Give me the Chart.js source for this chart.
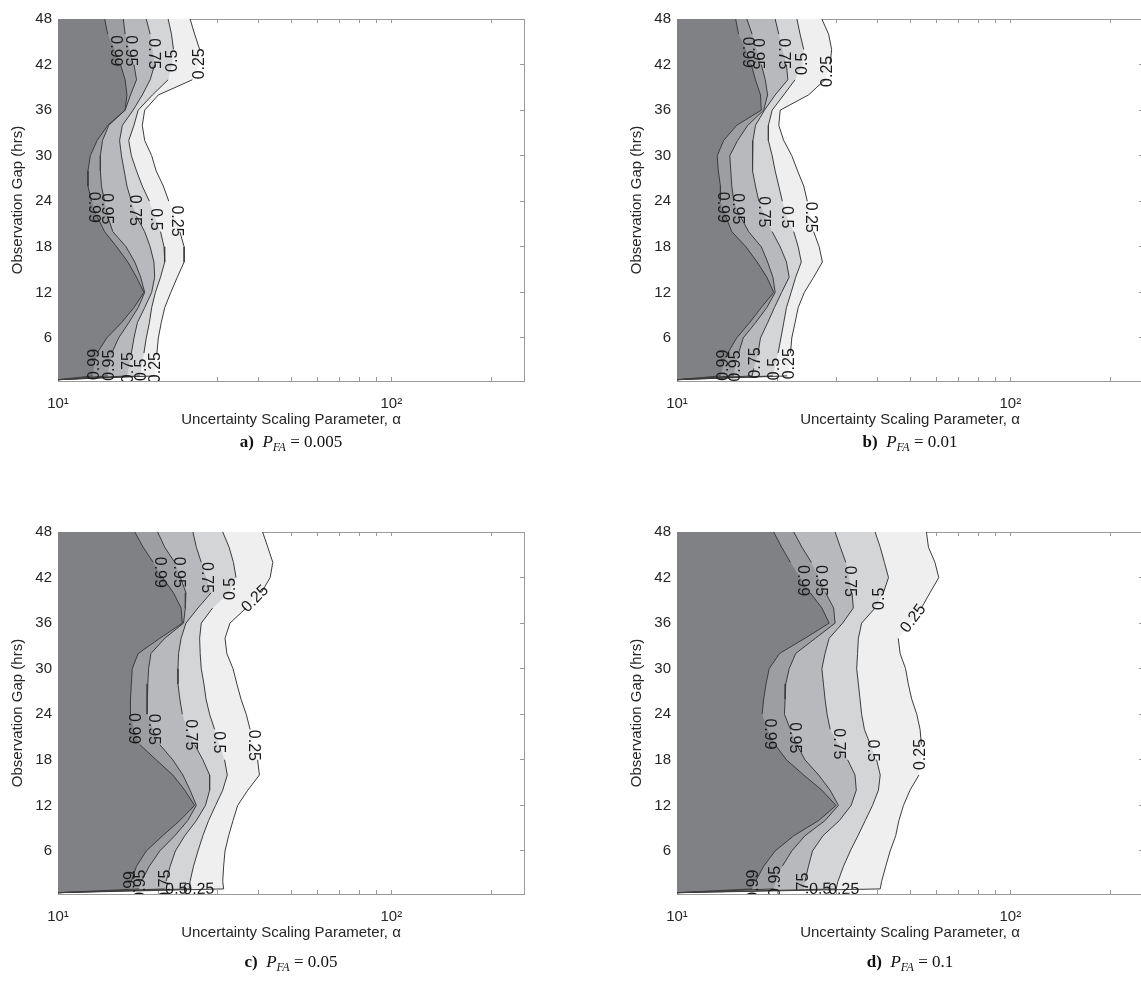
<!DOCTYPE html>
<html>
<head>
<meta charset="utf-8">
<title>Observation gap vs uncertainty scaling parameter</title>
<script src="https://cdn.jsdelivr.net/npm/chart.js@4.4.1/dist/chart.umd.min.js"></script>
<style>
  html, body { margin: 0; padding: 0; background: #fff; }
  body { width: 1141px; height: 988px; overflow: hidden; position: relative; }
  .panel { position: absolute; width: 560px; height: 460px; }
  .cap { position: absolute; width: 300px; text-align: center; line-height: 20px;
         font-family: 'Liberation Serif', 'Times New Roman', serif; font-size: 17px; color: #111; }
  .cap sub { font-size: 12px; }
</style>
</head>
<body>
<div class="panel" style="left:0;top:0"><canvas id="chartA"></canvas></div>
<div class="panel" style="left:619px;top:0"><canvas id="chartB"></canvas></div>
<div class="panel" style="left:0;top:513px"><canvas id="chartC"></canvas></div>
<div class="panel" style="left:619px;top:513px"><canvas id="chartD"></canvas></div>
<div class="cap" style="left:141px;top:432px"><b>a)</b>&nbsp; <i>P<sub>FA</sub></i> = 0.005</div>
<div class="cap" style="left:760px;top:432px"><b>b)</b>&nbsp; <i>P<sub>FA</sub></i> = 0.01</div>
<div class="cap" style="left:141px;top:952px"><b>c)</b>&nbsp; <i>P<sub>FA</sub></i> = 0.05</div>
<div class="cap" style="left:760px;top:952px"><b>d)</b>&nbsp; <i>P<sub>FA</sub></i> = 0.1</div>
<script>
// observation gap (hrs) at which every contour is sampled, top to bottom
var gapHours = [48, 46, 44, 42, 40, 38, 36, 34, 32, 30, 28, 26, 24, 22, 20, 18, 16, 14, 12, 10, 8, 6, 4, 2, 1, 0.5];
var levelNames = ['0.99', '0.95', '0.75', '0.5', '0.25'];
var levelFill = ['#808184', '#9d9ea1', '#b8b9bc', '#d4d5d7', '#efeff0'];
var xTickValues = [10, 20, 30, 40, 50, 60, 70, 80, 90, 100, 200];
var xTickLabels = ['10¹', '', '', '', '', '', '', '', '', '10²', ''];
var yTickValues = [6, 12, 18, 24, 30, 36, 42, 48];

// alpha where each probability contour sits, one value per gapHours entry
// a) P_FA = 0.005
var a99 = [13.8, 14.1, 14.8, 15.4, 15.9, 16.1, 15.9, 14.1, 13.1, 12.5, 12.3, 12.3, 12.6, 13.1, 13.8, 15.0, 16.2, 17.2, 18.1, 16.9, 15.5, 14.0, 13.1, 12.8, 12.7, 10];
var a95 = [15.7, 15.9, 16.4, 16.9, 17.2, 16.5, 15.9, 14.2, 13.6, 13.4, 13.4, 13.5, 13.8, 14.1, 14.6, 16.0, 17.0, 17.7, 18.2, 17.4, 16.3, 15.2, 14.5, 14.2, 14.1, 10];
var a75 = [18.4, 18.9, 19.2, 19.5, 18.9, 17.9, 16.8, 15.6, 15.3, 15.5, 15.8, 16.1, 16.6, 17.2, 18.2, 18.9, 19.4, 19.5, 19.1, 18.2, 17.3, 16.9, 16.6, 16.3, 16.1, 10];
var a50 = [21.4, 21.9, 22.2, 22.0, 21.4, 19.2, 17.4, 16.9, 16.3, 16.6, 17.2, 17.9, 18.8, 19.5, 20.3, 20.8, 20.9, 20.3, 19.6, 19.1, 18.8, 18.4, 18.1, 17.8, 17.6, 10];
var a25 = [24.9, 25.7, 26.6, 26.5, 25.3, 20.0, 18.2, 17.9, 18.2, 19.1, 19.7, 20.7, 21.5, 22.4, 23.2, 23.9, 23.9, 22.8, 21.8, 20.9, 20.4, 20.0, 19.8, 19.6, 19.5, 10];
// b) P_FA = 0.01
var b99 = [15.0, 15.3, 16.1, 16.7, 17.2, 17.8, 17.9, 15.1, 13.8, 13.2, 13.3, 13.5, 13.5, 14.0, 14.6, 16.1, 17.4, 18.6, 19.5, 17.9, 16.5, 15.1, 14.2, 13.7, 13.5, 10];
var b95 = [16.2, 16.8, 17.3, 17.9, 18.4, 18.7, 18.2, 16.3, 15.2, 14.4, 14.5, 14.6, 14.8, 15.5, 16.4, 17.9, 18.7, 19.4, 19.7, 18.6, 17.2, 15.8, 15.3, 14.9, 14.8, 10];
var b75 = [19.7, 20.2, 20.7, 21.3, 21.5, 19.7, 18.3, 17.2, 16.9, 16.8, 16.9, 17.2, 17.6, 18.4, 19.3, 20.4, 21.3, 21.7, 20.6, 19.6, 18.7, 17.8, 17.5, 17.0, 16.8, 10];
var b50 = [22.9, 23.4, 24.0, 23.8, 22.6, 20.9, 19.3, 18.8, 18.8, 19.3, 19.7, 20.2, 20.7, 21.3, 22.4, 23.1, 23.6, 22.7, 22.0, 21.3, 20.9, 20.5, 20.1, 19.6, 19.4, 10];
var b25 = [27.2, 28.5, 29.1, 28.8, 27.8, 24.8, 20.4, 20.2, 20.9, 22.1, 23.0, 24.0, 24.6, 25.1, 25.7, 26.7, 27.3, 25.7, 24.1, 23.1, 22.6, 22.1, 21.9, 21.7, 21.4, 10];
// c) P_FA = 0.05
var c99 = [17.0, 18.0, 19.3, 20.6, 22.2, 23.4, 23.6, 20.2, 17.4, 16.7, 16.6, 16.5, 16.5, 16.9, 17.6, 19.7, 22.1, 24.0, 25.7, 23.2, 20.6, 18.4, 17.2, 16.6, 16.4, 10];
var c95 = [19.9, 20.9, 22.4, 23.3, 24.2, 24.1, 23.8, 20.9, 19.0, 18.7, 18.6, 18.5, 18.5, 19.3, 20.2, 22.1, 23.7, 24.9, 26.0, 24.5, 22.4, 20.2, 18.8, 17.8, 17.5, 10];
var c75 = [25.4, 26.0, 26.9, 27.8, 28.8, 26.3, 24.2, 23.4, 23.0, 22.9, 22.9, 23.2, 23.6, 24.5, 25.7, 27.2, 28.5, 28.5, 27.7, 26.0, 24.0, 22.5, 21.7, 21.1, 20.9, 10];
var c50 = [31.2, 32.6, 33.6, 34.2, 32.6, 29.1, 26.9, 26.6, 26.7, 26.9, 27.4, 27.8, 28.5, 29.5, 30.5, 31.6, 32.2, 31.2, 29.7, 28.3, 27.2, 26.3, 25.5, 24.9, 24.8, 10];
var c25 = [41.1, 42.6, 44.1, 43.3, 40.7, 36.7, 32.8, 31.7, 32.1, 33.5, 34.4, 35.4, 36.7, 37.7, 38.6, 39.7, 40.2, 37.1, 34.6, 33.5, 32.5, 31.7, 31.4, 31.2, 31.4, 10];
// d) P_FA = 0.1
var d99 = [19.5, 20.6, 21.9, 23.4, 25.1, 27.2, 28.6, 24.2, 20.3, 18.9, 18.5, 18.2, 18.0, 18.7, 19.7, 21.3, 24.0, 27.2, 30.0, 26.6, 22.4, 19.7, 18.2, 17.2, 16.8, 10];
var d95 = [22.4, 23.7, 25.3, 26.6, 27.9, 29.5, 29.8, 26.0, 22.7, 21.7, 21.2, 21.1, 21.0, 21.9, 22.9, 24.2, 26.6, 28.8, 30.5, 27.8, 24.2, 22.1, 20.7, 19.8, 19.5, 10];
var d75 = [29.8, 30.9, 32.1, 32.8, 33.5, 33.8, 31.4, 28.6, 27.8, 27.2, 27.5, 27.8, 28.2, 28.8, 30.5, 32.5, 34.2, 34.5, 33.3, 30.7, 27.4, 25.5, 24.8, 24.2, 24.0, 10];
var d50 = [39.3, 40.7, 41.9, 43.1, 41.6, 39.3, 35.8, 35.0, 34.8, 34.6, 35.0, 35.4, 35.8, 36.5, 38.0, 39.7, 40.7, 40.2, 38.6, 36.7, 34.9, 33.1, 31.6, 30.4, 30.0, 10];
var d25 = [56.0, 56.8, 59.4, 61.0, 57.4, 54.1, 50.0, 46.1, 46.7, 48.5, 49.4, 50.6, 52.4, 53.6, 54.1, 53.9, 53.2, 50.0, 47.8, 46.3, 45.3, 43.6, 42.3, 41.1, 40.7, 10];

// contour label spots: [level index, position along the contour (point index)]
var spotsA = [[0, 2.1], [1, 2.1], [2, 2.3], [3, 2.75], [4, 2.95], [0, 12.4], [1, 12.5], [2, 12.6], [3, 13.2], [4, 13.3],
              [0, 22.75], [1, 22.8], [2, 22.95], [3, 23.2], [4, 22.95]];
var spotsB = [[0, 2.2], [1, 2.3], [2, 2.3], [3, 2.95], [4, 3.45], [0, 12.4], [1, 12.5], [2, 12.7], [3, 13.05], [4, 13.05],
              [0, 22.8], [1, 22.85], [2, 22.65], [3, 23.1], [4, 22.7]];
var spotsC = [[0, 2.65], [1, 2.65], [2, 3.0], [3, 3.75], [4, 4.4], [0, 12.95], [1, 13.0], [2, 13.35], [3, 13.85], [4, 14.05],
              [0, 23.7], [1, 23.5], [2, 23.5], [3, 24.1], [4, 24.15]];
var spotsD = [[0, 3.2], [1, 3.2], [2, 3.25], [3, 4.4], [4, 5.7], [0, 13.3], [1, 13.55], [2, 13.95], [3, 14.4], [4, 14.65],
              [0, 23.5], [1, 23.0], [2, 23.9], [3, 24.1], [4, 24.18]];

var fontSans = "'Liberation Sans', Arial, Helvetica, sans-serif";
var axisGray = '#9a9a9a';
var textGray = '#262626';
var nLevels = levelNames.length;

// draws the contour values along the lines (line datasets come after the fill datasets)
var contourLabels = {
  id: 'contourLabels',
  afterDatasetsDraw: function (chart, args, opts) {
    var ctx = chart.ctx, area = chart.chartArea;
    ctx.save();
    ctx.beginPath();
    ctx.rect(area.left, area.top, area.right - area.left, area.bottom - area.top);
    ctx.clip();
    ctx.font = '16px ' + fontSans;
    ctx.fillStyle = '#1a1a1a';
    ctx.textAlign = 'center';
    ctx.textBaseline = 'middle';
    opts.spots.forEach(function (s) {
      var pts = chart.getDatasetMeta(nLevels + s[0]).data;
      var i = Math.floor(s[1]), f = s[1] - i;
      var p0 = pts[i], p1 = pts[i + 1];
      var x = p0.x + (p1.x - p0.x) * f, y = p0.y + (p1.y - p0.y) * f;
      var ang = Math.atan2(p1.y - p0.y, p1.x - p0.x);
      if (ang > Math.PI / 2) ang -= Math.PI;
      else if (ang <= -Math.PI / 2) ang += Math.PI;
      // steep runs get upright-vertical text, like the original clabel output
      if (Math.abs(ang) > Math.PI * 0.3) ang = ang > 0 ? Math.PI / 2 : -Math.PI / 2;
      ctx.save();
      ctx.translate(x, y);
      ctx.rotate(ang);
      ctx.fillText(levelNames[s[0]], 0, 0);
      ctx.restore();
    });
    ctx.restore();
  }
};

function makeChart(id, contours, spots) {
  var points = contours.map(function (xs) {
    return xs.map(function (x, i) { return {x: x, y: gapHours[i]}; });
  });

  // filled bands: 0.25 drawn first, 0.99 last
  var fills = points.map(function (pts, k) {
    return {
      label: levelNames[k] + ' band',
      data: pts,
      order: 10 + k,
      borderWidth: 0,
      borderColor: 'rgba(0,0,0,0)',
      backgroundColor: levelFill[k],
      fill: {value: 10},
      pointRadius: 0,
      tension: 0
    };
  });

  // contour lines, broken where a label sits
  var lines = points.map(function (pts, k) {
    var gaps = {};
    spots.forEach(function (s) {
      if (s[0] !== k || s[1] >= 24) return;
      var i = Math.floor(s[1]), f = s[1] - i;
      gaps[i] = true;
      if (f < 0.35) gaps[i - 1] = true;
      if (f > 0.65) gaps[i + 1] = true;
    });
    return {
      label: levelNames[k],
      data: pts,
      order: k,
      borderColor: '#3c3c3c',
      borderWidth: 1,
      fill: false,
      pointRadius: 0,
      tension: 0,
      segment: {
        borderColor: function (c) { return gaps[c.p0DataIndex] ? 'rgba(0,0,0,0)' : undefined; }
      }
    };
  });

  new Chart(id, {
    type: 'line',
    data: {datasets: fills.concat(lines)},
    plugins: [contourLabels],
    options: {
      indexAxis: 'y',
      responsive: true,
      maintainAspectRatio: false,
      animation: false,
      devicePixelRatio: 1,
      layout: {padding: {top: 15, right: 36, left: 0, bottom: 0}},
      plugins: {
        legend: {display: false},
        tooltip: {enabled: false},
        contourLabels: {spots: spots}
      },
      scales: {
        x: {
          type: 'logarithmic',
          position: 'bottom',
          min: 10,
          max: 250,
          z: 1,
          afterBuildTicks: function (s) { s.ticks = xTickValues.map(function (v) { return {value: v}; }); },
          afterFit: function (s) { s.height = 79; },
          border: {color: axisGray},
          grid: {drawOnChartArea: false, color: axisGray, tickLength: -4},
          ticks: {
            autoSkip: false,
            maxRotation: 0,
            padding: 18,
            color: textGray,
            font: {size: 15, family: fontSans},
            callback: function (v) {
              var k = xTickValues.indexOf(v);
              return k < 0 ? '' : xTickLabels[k];
            }
          },
          title: {
            display: true,
            text: 'Uncertainty Scaling Parameter, α',
            color: textGray,
            font: {size: 15, family: fontSans},
            padding: {top: 0, bottom: 31}
          }
        },
        xTop: {
          type: 'logarithmic',
          position: 'top',
          min: 10,
          max: 250,
          z: 1,
          afterBuildTicks: function (s) { s.ticks = xTickValues.map(function (v) { return {value: v}; }); },
          afterFit: function (s) { s.height = 0; },
          border: {color: axisGray},
          grid: {drawOnChartArea: false, color: axisGray, tickLength: -4},
          ticks: {display: false}
        },
        y: {
          type: 'linear',
          position: 'left',
          min: 0.33,
          max: 48,
          z: 1,
          afterBuildTicks: function (s) { s.ticks = yTickValues.map(function (v) { return {value: v}; }); },
          afterFit: function (s) { s.width = 58; },
          border: {color: axisGray},
          grid: {drawOnChartArea: false, color: axisGray, tickLength: -4},
          ticks: {padding: 10, color: textGray, font: {size: 15, family: fontSans}},
          title: {
            display: true,
            text: 'Observation Gap (hrs)',
            color: textGray,
            font: {size: 15, family: fontSans},
            padding: {top: 9, bottom: 0}
          }
        },
        yRight: {
          type: 'linear',
          position: 'right',
          min: 0.33,
          max: 48,
          z: 1,
          afterBuildTicks: function (s) { s.ticks = yTickValues.map(function (v) { return {value: v}; }); },
          afterFit: function (s) { s.width = 0; },
          border: {color: axisGray},
          grid: {drawOnChartArea: false, color: axisGray, tickLength: -4},
          ticks: {display: false}
        }
      }
    }
  });
}

makeChart('chartA', [a99, a95, a75, a50, a25], spotsA);
makeChart('chartB', [b99, b95, b75, b50, b25], spotsB);
makeChart('chartC', [c99, c95, c75, c50, c25], spotsC);
makeChart('chartD', [d99, d95, d75, d50, d25], spotsD);
</script>
</body>
</html>
